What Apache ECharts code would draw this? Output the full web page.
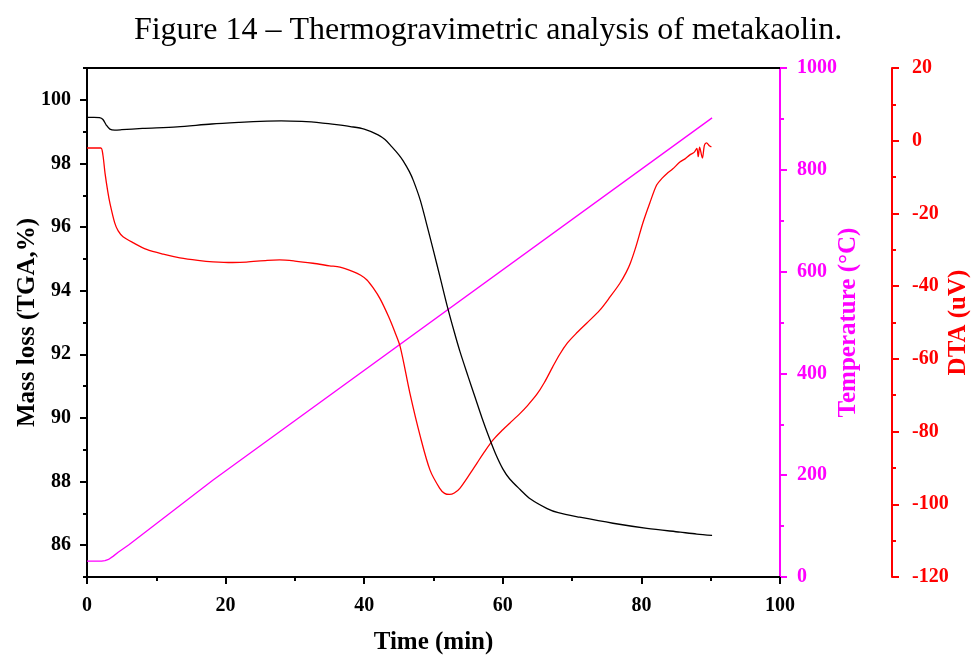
<!DOCTYPE html>
<html>
<head>
<meta charset="utf-8">
<script src="https://cdn.jsdelivr.net/npm/echarts@6/dist/echarts.min.js"></script>
<style>html,body{margin:0;padding:0;background:#fff;overflow:hidden}#c{width:976px;height:657px}</style>
</head>
<body>
<div id="c"></div>
<script>
// ---- data ----
var tgaTime = [0,1,1.8,2.3,2.8,3.3,4,5,8,13,18,22,26,28,31,34,36,38,40,42,43,44,45,45.6,46.5,47.1,48.1,49,50,51,52,53,53.8,55,56,57,58,59,60,61,62.5,64,66.4,68,71.1,75.9,80.8,85.6,88,90.2];
var tgaMass = [99.45,99.45,99.44,99.38,99.2,99.08,99.05,99.06,99.1,99.15,99.24,99.29,99.33,99.34,99.32,99.27,99.22,99.16,99.08,98.9,98.75,98.52,98.27,98.09,97.75,97.46,96.84,96.1,95.25,94.38,93.5,92.7,92.1,91.3,90.65,90.0,89.4,88.85,88.4,88.08,87.75,87.45,87.15,87.02,86.88,86.69,86.53,86.41,86.35,86.31];

var tempTime = [0,2.1,2.6,3.1,3.8,4.5,6,18.2,90.2];
var tempValue = [31,31,32,34.5,41,48.5,63,190.6,902];

var dtaTime = [0,1,2,2.3,2.6,3,3.3,4,4.5,5.2,6.7,8.6,11,13.4,16,18.2,21,23,26,27.8,30,32.6,35,36.5,38.4,39.5,40.4,41.3,42.3,43.5,44.4,45.2,46.6,48.1,49.5,50.9,51.6,52.3,53,53.8,55.3,56.3,57.2,58.6,60,61,62.5,63.5,64.9,66,67.2,68.2,69.3,70.5,72.1,74,75.5,76.9,77.8,78.4,79.2,80.2,81.2,82.2,83,83.7,84.5,85.6,86.3,87,87.6,88,88.2,88.4,88.8,89.1,89.4,89.8,90.1];
var dtaValue = [-2,-2,-2,-4,-8.9,-14,-17.1,-22.6,-24.8,-26.4,-28.1,-29.9,-31.2,-32.2,-32.9,-33.3,-33.5,-33.4,-32.9,-32.8,-33.1,-33.7,-34.4,-34.8,-36.0,-37,-38.3,-40.5,-43.5,-48.3,-52.5,-56.7,-69.5,-81.4,-90.6,-95.6,-97,-97.3,-96.9,-95.6,-91.5,-88.6,-86.0,-82.3,-79.5,-77.7,-75.0,-73.0,-69.8,-66.5,-62.2,-58.8,-55.7,-53.2,-50.2,-46.6,-42.9,-39.2,-36.2,-33.7,-29.2,-22.7,-17.2,-12.2,-10.3,-9.0,-7.8,-5.8,-5.0,-3.9,-3.2,-2.1,-4.4,-1.8,-4.8,-1.2,-0.6,-1.4,-1.7];

var xTickLabels = [0,20,40,60,80,100];
var tgaTickLabels = [86,88,90,92,94,96,98,100];
var tgaMinorTicks = [85,87,89,91,93,95,97,99,101];

function zip(a,b){return a.map(function(v,i){return [v,b[i]];});}
function plain(v){return String(v);}

var FONT = '"Liberation Serif","Times New Roman",serif';
var chart = echarts.init(document.getElementById('c'), null, {renderer:'canvas', width:976, height:657});
var blackLine = {show:true, onZero:false, lineStyle:{color:'#000', width:2}};
chart.setOption({
  animation:false,
  backgroundColor:'#fff',
  title:{
    text:'Figure 14 \u2013 Thermogravimetric analysis of metakaolin.',
    left:'center', top:10,
    textStyle:{fontFamily:FONT, fontWeight:'normal', fontSize:32, color:'#000'}
  },
  grid:{left:87, right:196, top:68, bottom:80, containLabel:false, outerBoundsMode:'none'},
  xAxis:[{
    type:'value', min:0, max:100, interval:20, position:'bottom',
    axisLine:blackLine,
    axisTick:{show:true, length:7, lineStyle:{color:'#000', width:2}},
    minorTick:{show:true, splitNumber:2, length:4, lineStyle:{color:'#000', width:2}},
    splitLine:{show:false},
    axisLabel:{fontFamily:FONT, fontWeight:'bold', fontSize:20, color:'#000', margin:19, formatter:plain, customValues:xTickLabels},
    name:'Time (min)', nameLocation:'middle', nameGap:53, nameMoveOverlap:false,
    nameTextStyle:{fontFamily:FONT, fontWeight:'bold', fontSize:25, color:'#000'}
  },{
    type:'value', min:0, max:100, position:'top',
    axisLine:blackLine, axisTick:{show:false}, axisLabel:{show:false}, splitLine:{show:false}
  }],
  yAxis:[{
    type:'value', min:85, max:101, interval:1, position:'left',
    axisLine:blackLine,
    axisTick:{show:true, length:7, lineStyle:{color:'#000', width:2}, customValues:tgaTickLabels},
    axisLabel:{fontFamily:FONT, fontWeight:'bold', fontSize:20, color:'#000', margin:16, formatter:plain, customValues:tgaTickLabels},
    splitLine:{show:false},
    name:'Mass loss (TGA,%)', nameLocation:'middle', nameGap:47, nameRotate:90, nameMoveOverlap:false,
    nameTextStyle:{fontFamily:FONT, fontWeight:'bold', fontSize:25, color:'#000'}
  },{
    type:'value', min:85, max:101, interval:1, position:'left',
    axisLine:{show:false, onZero:false},
    axisTick:{show:true, length:4, lineStyle:{color:'#000', width:2}, customValues:tgaMinorTicks},
    axisLabel:{show:false}, splitLine:{show:false}
  },{
    type:'value', min:0, max:1000, interval:200, position:'right', offset:0,
    axisLine:{show:true, onZero:false, lineStyle:{color:'#ff00ff', width:2}},
    axisTick:{show:true, length:7, lineStyle:{color:'#ff00ff', width:2}},
    minorTick:{show:true, splitNumber:2, length:4, lineStyle:{color:'#ff00ff', width:2}},
    axisLabel:{fontFamily:FONT, fontWeight:'bold', fontSize:20, color:'#ff00ff', margin:17, formatter:plain},
    splitLine:{show:false},
    name:'Temperature (\u00b0C)', nameLocation:'middle', nameGap:56, nameRotate:90, nameMoveOverlap:false,
    nameTextStyle:{fontFamily:FONT, fontWeight:'bold', fontSize:25, color:'#ff00ff'}
  },{
    type:'value', min:-120, max:20, interval:20, position:'right', offset:112,
    axisLine:{show:true, onZero:false, lineStyle:{color:'#ff0000', width:2}},
    axisTick:{show:true, length:7, lineStyle:{color:'#ff0000', width:2}},
    minorTick:{show:true, splitNumber:2, length:4, lineStyle:{color:'#ff0000', width:2}},
    axisLabel:{fontFamily:FONT, fontWeight:'bold', fontSize:20, color:'#ff0000', margin:20, formatter:plain},
    splitLine:{show:false},
    name:'DTA (uV)', nameLocation:'middle', nameGap:54, nameRotate:90, nameMoveOverlap:false,
    nameTextStyle:{fontFamily:FONT, fontWeight:'bold', fontSize:25, color:'#ff0000'}
  }],
  series:[{
    name:'TGA', type:'line', xAxisIndex:0, yAxisIndex:0, data:zip(tgaTime,tgaMass),
    showSymbol:false, smooth:0.3, lineStyle:{color:'#000', width:1.3}, z:3
  },{
    name:'Temperature', type:'line', xAxisIndex:0, yAxisIndex:2, data:zip(tempTime,tempValue),
    showSymbol:false, smooth:false, lineStyle:{color:'#ff00ff', width:1.3}, z:2
  },{
    name:'DTA', type:'line', xAxisIndex:0, yAxisIndex:3, data:zip(dtaTime,dtaValue),
    showSymbol:false, smooth:0.3, lineStyle:{color:'#ff0000', width:1.3}, z:2
  }]
});
</script>
</body>
</html>
